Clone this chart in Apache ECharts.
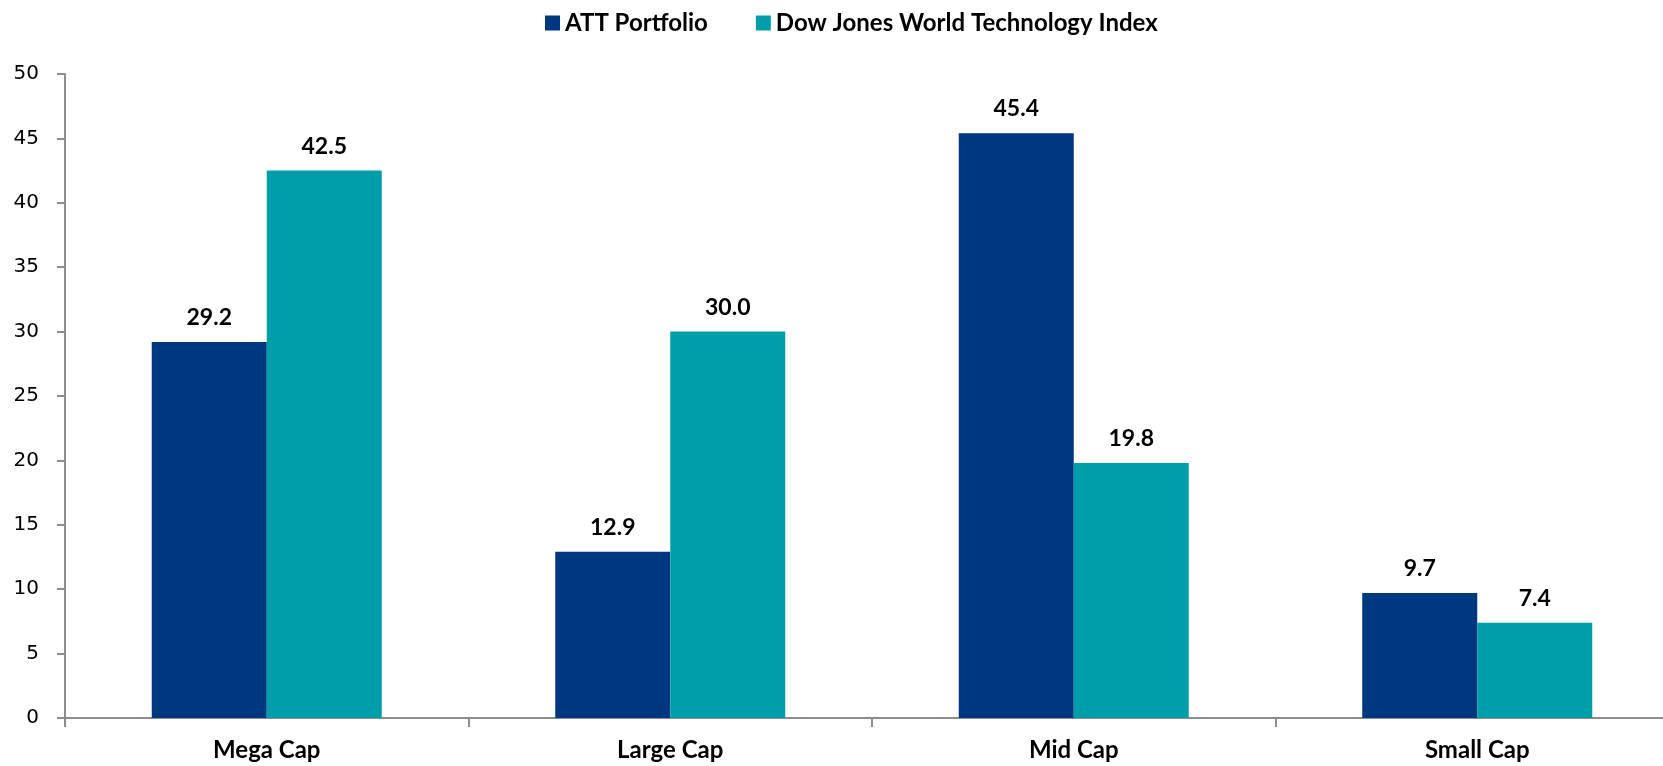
<!DOCTYPE html>
<html>
<head>
<meta charset="utf-8">
<script src="https://cdn.jsdelivr.net/npm/echarts@6/dist/echarts.min.js"></script>
<style>
  html, body { margin: 0; padding: 0; background: #ffffff; overflow: hidden; }
  /* the plot runs slightly past the right edge of the window */
  #chart { width: 1680px; height: 766px; }
</style>
</head>
<body>
<div id="chart"></div>
<script>
// Market-cap breakdown: portfolio vs. benchmark (%)
const categories = ['Mega Cap', 'Large Cap', 'Mid Cap', 'Small Cap'];
const seriesNames = ['ATT Portfolio', 'Dow Jones World Technology Index'];
const attPortfolio = [29.2, 12.9, 45.4, 9.7];
const dowJonesTech = [42.5, 30.0, 19.8, 7.4];
const seriesColors = ['#003781', '#009EAA'];

const labelFont = 'Lato, "Open Sans", sans-serif';

const chart = echarts.init(document.getElementById('chart'), null, { renderer: 'canvas' });

function barSeries(name, data, color) {
  return {
    name: name,
    type: 'bar',
    data: data,
    barGap: '0%',
    barCategoryGap: '43%',
    itemStyle: { color: color },
    label: {
      show: true,
      position: 'top',
      distance: 13,
      formatter: p => p.value.toFixed(1),
      color: '#000',
      fontFamily: labelFont,
      fontWeight: 'bold',
      fontSize: 23
    },
    emphasis: { disabled: true }
  };
}

chart.setOption({
  animation: false,
  backgroundColor: '#ffffff',
  legend: {
    top: 6,
    left: 540,
    itemWidth: 15,
    itemHeight: 15,
    itemGap: 48,
    icon: 'rect',
    textStyle: {
      fontFamily: labelFont,
      fontWeight: 'bold',
      fontSize: 24,
      color: '#000'
    },
    data: seriesNames
  },
  grid: {
    left: 65,
    right: 1,
    top: 74,
    bottom: 48,
    containLabel: false
  },
  xAxis: {
    type: 'category',
    data: categories,
    axisLine: { lineStyle: { color: '#8c8c8c', width: 2 } },
    axisTick: { show: true, alignWithLabel: false, length: 9, lineStyle: { color: '#8c8c8c', width: 2 } },
    axisLabel: {
      margin: 20,
      color: '#000',
      fontFamily: labelFont,
      fontWeight: 'bold',
      fontSize: 24
    },
    splitLine: { show: false }
  },
  yAxis: {
    type: 'value',
    min: 0,
    max: 50,
    interval: 5,
    axisLine: { show: true, lineStyle: { color: '#8c8c8c', width: 2 } },
    axisTick: { show: true, length: 8, lineStyle: { color: '#8c8c8c', width: 2 } },
    axisLabel: {
      margin: 26,
      color: '#000',
      fontFamily: '"DejaVu Sans", Verdana, sans-serif',
      fontSize: 20
    },
    splitLine: { show: false }
  },
  series: [
    barSeries(seriesNames[0], attPortfolio, seriesColors[0]),
    barSeries(seriesNames[1], dowJonesTech, seriesColors[1])
  ]
});
</script>
</body>
</html>
